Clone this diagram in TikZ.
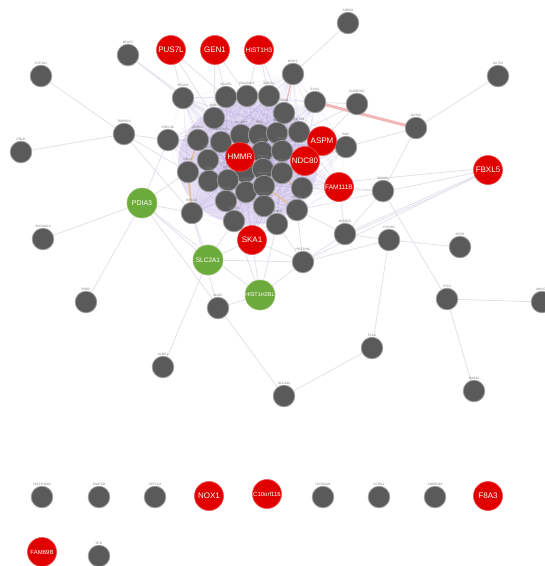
\documentclass[tikz,border=0pt]{standalone}
\usepackage{fontspec}
\setmainfont{Liberation Sans}
\usetikzlibrary{backgrounds}
\definecolor{gn}{HTML}{5A5A5A}
\definecolor{gring}{HTML}{9A9A9A}
\definecolor{rd}{HTML}{E00000}
\definecolor{grn}{HTML}{6DAA3C}
\definecolor{edgec}{HTML}{E3E1EA}
\definecolor{purp}{HTML}{8F79CF}
\definecolor{haze}{HTML}{DED3F2}
\definecolor{pinkc}{HTML}{F2B7B7}
\definecolor{tan}{HTML}{E8B98A}
\newcommand\gnd[4]{\node[gnode,label={[lab]above:#4}] (#1) at (#2,#3) {};}
\begin{document}
\begin{tikzpicture}[x=1pt,y=-1pt,
  gnode/.style={circle,fill=gn,draw=gring,line width=0.8pt,minimum size=21.5pt,inner sep=0pt},
  rnode/.style={circle,fill=rd,draw=rd!70!white,line width=0.6pt,minimum size=29pt,inner sep=0pt,text=white,font=\fontsize{8}{8}\selectfont},
  gnnode/.style={circle,fill=grn,draw=grn!70!white,line width=0.6pt,minimum size=30pt,inner sep=0pt,text=white,font=\fontsize{6.5}{6.5}\selectfont},
  lab/.style={font=\fontsize{3.2}{3.2}\selectfont,text=gray,inner sep=0.6pt},
  oedge/.style={draw=edgec,line width=0.8pt},
  cedge/.style={draw=purp,line width=0.45pt,opacity=0.12},
  pedge/.style={draw=pinkc,line width=3pt},
  tedge/.style={draw=tan,line width=1.6pt,opacity=0.8}]
\useasboundingbox (0,0) rectangle (545,566);
\clip (0,0) rectangle (545,566);
% ---- outer nodes
\gnd{mfap}{128}{55}{MFAP2}
\node[rnode] (pus) at (171,50) {PUS7L};
\node[rnode] (gen) at (215,50) {GEN1};
\node[rnode,font=\fontsize{6.5}{6.5}\selectfont] (hist3) at (259,50) {HIST1H3};
\gnd{srd}{348}{23}{SRD5A}
\gnd{cyp1}{41}{76}{CYP1A1}
\gnd{tmp}{124}{134}{TMPRSS}
\gnd{prlr}{21}{152}{PRLR}
\gnd{brip}{293}{74}{BRIP1}
\gnd{auts}{498}{76}{AUTS2}
\gnd{dhd}{357}{104}{CHORDC1}
\gnd{gata}{416}{128}{GATA6}
\node[rnode] (fbxl) at (488,170) {FBXL5};
\gnd{boc}{346}{147}{BOC}
\gnd{phk}{383}{191}{PHKG2}
\gnd{mif}{345}{234}{MIF4GD}
\gnd{cyp2}{389}{240}{CYP2R1}
\gnd{sopc}{460}{247}{SDPR}
\gnd{sts}{447}{299}{STC2}
\gnd{redge}{542}{302}{MOXD1}
\gnd{plau}{372}{348}{PLAU}
\gnd{rab}{474}{391}{RAB32}
\gnd{slc4}{284}{396}{SLC4A4}
\gnd{ulbp}{163}{367}{ULBP1}
\gnd{slc39}{43}{239}{SLC39A14}
\gnd{brd}{86}{302}{BRD2}
\gnd{nudc}{218}{308}{NUDC}
\gnd{hfl}{303}{262}{HIST1H4L}
\node[gnnode,font=\fontsize{7}{7}\selectfont] (pdia) at (142,203) {PDIA3};
\node[gnnode] (slc2) at (208,260) {SLC2A1};
\node[gnnode,font=\fontsize{5.5}{5.5}\selectfont] (htb) at (260,295) {HIST1H2BL};
% ---- cluster
\gnd{c1}{183}{98}{ESCO2}
\gnd{c2}{226}{97}{NCAPG}
\gnd{c3}{247}{96}{RACGAP1}
\gnd{c4}{269}{96}{BRCA1}
\gnd{c5}{315}{102}{EXO1}
\gnd{c6}{214}{118}{BUB1}
\gnd{c7}{284}{113}{SKA3}
\gnd{c8}{168}{140}{ERCC6L}
\gnd{c9}{198}{140}{AURKA}
\gnd{c10}{221}{142}{RAD51AP1}
\gnd{c11}{241}{135}{NCAPH}
\gnd{c12}{259}{135}{PBK}
\gnd{c13}{277}{133}{NUF2}
\gnd{c14}{299}{132}{KIF18B}
\gnd{c15}{262}{152}{CDK1}
\gnd{c16}{282}{151}{CCNB1}
\gnd{c17}{208}{160}{MELK}
\gnd{c18}{188}{172}{NEIL3}
\node[gnode] (c19) at (245,172) {};
\gnd{c20}{263}{169}{CDC20}
\gnd{c21}{282}{173}{KIF11}
\gnd{c22}{209}{181}{TPX2}
\gnd{c23}{228}{180}{KIF2C}
\gnd{c24}{246}{192}{CENPF}
\gnd{c25}{264}{186}{NUSAP1}
\gnd{c26}{302}{188}{PRC1}
\gnd{c27}{226}{201}{KIF4A}
\gnd{c28}{192}{213}{BRCA2}
\gnd{c29}{264}{206}{TOP2A}
\gnd{c30}{297}{210}{KIF20A}
\gnd{c31}{234}{221}{CEP55}
\gnd{c32}{277}{224}{CENPE}
\node[rnode] (aspm) at (322,141) {ASPM};
\node[rnode] (ndc) at (305,161) {NDC80};
\node[rnode,font=\fontsize{6.5}{6.5}\selectfont] (fam) at (339,187) {FAM111B};
\node[rnode] (hmmr) at (240,157) {HMMR};
\node[rnode] (ska) at (252,240) {SKA1};
% ---- isolated nodes
\gnd{b1}{42}{497}{HIST2H2AB}
\gnd{b2}{99}{497}{FAM72D}
\gnd{b3}{155}{497}{SPTLC3}
\node[rnode] (nox) at (209,496) {NOX1};
\node[rnode,font=\fontsize{6}{6}\selectfont] (corf) at (267,494) {C10orf116};
\gnd{b4}{323}{497}{LOC81691}
\gnd{b5}{379}{497}{SCRG1}
\gnd{b6}{435}{497}{ANKRD18}
\node[rnode] (f8) at (488,496) {F8A3};
\node[rnode,font=\fontsize{6}{6}\selectfont] (fam69) at (42,552) {FAM69B};
\gnd{b7}{99}{556}{SPI1}
% ---- edges
\begin{scope}[on background layer]
\fill[white] (0,0) rectangle (545,566);
\fill[haze,opacity=0.7] (248,163) ellipse [x radius=70pt,y radius=62pt];
\def\clist{c1,c2,c3,c4,c5,c6,c7,c8,c9,c10,c11,c12,c13,c14,c15,c16,c17,c18,c19,c20,c21,c22,c23,c24,c25,c26,c27,c28,c29,c30,c31,c32,aspm,ndc,fam,hmmr,ska,boc,brip}
\foreach \a [count=\i] in \clist {
  \foreach \b [count=\j] in \clist {
    \ifnum\j>\i \draw[cedge] (\a) -- (\b); \fi
  }
}
\foreach \a/\b in {mfap/c1,mfap/c6,pus/c1,pus/c6,pus/c2,gen/c2,gen/c6,gen/c3,hist3/c3,hist3/c4,hist3/c7,
  brip/srd,cyp1/tmp,prlr/tmp,tmp/c8,tmp/c18,tmp/c28,dhd/c5,dhd/aspm,dhd/c14,gata/auts,gata/phk,gata/boc,
  boc/aspm,boc/ndc,fbxl/mif,fbxl/hfl,fbxl/c30,phk/fam,phk/mif,phk/sts,phk/c26,mif/cyp2,mif/hfl,mif/c30,mif/fam,
  cyp2/sopc,cyp2/plau,cyp2/hfl,sts/redge,sts/rab,plau/slc4,pdia/slc39,pdia/brd,pdia/slc2,pdia/slc4,pdia/c28,
  pdia/c18,pdia/c8,pdia/htb,slc2/ulbp,slc2/ska,slc2/hfl,slc2/c31,slc2/c28,htb/ska,htb/hfl,htb/nudc,htb/c31,
  htb/c32,nudc/c28,hfl/c32,hfl/ska,hfl/c30,ska/c31,ska/c32}
  \draw[oedge] (\a) -- (\b);
\draw[oedge] ([yshift=-2pt]fbxl.center) -- ([yshift=-2pt]mif.center);
\draw[oedge] ([yshift=2pt]fbxl.center) -- ([yshift=2pt]c26.center);
\draw[pedge] (c5) -- (gata);
\draw[draw=pinkc,line width=1.2pt] (brip) -- (c7);
\draw[tedge] (c9) -- (c18);
\draw[tedge] (c18) -- (c28);
\draw[tedge] (c20) -- (c26);
\draw[tedge] (c25) -- (c30);
\end{scope}
\end{tikzpicture}
\end{document}
